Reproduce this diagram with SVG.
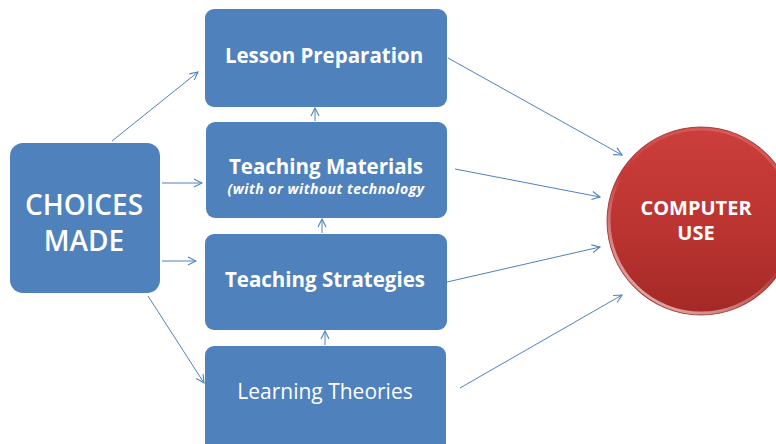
<svg xmlns="http://www.w3.org/2000/svg" width="776" height="444" viewBox="0 0 776 444">
  <defs>
    <marker id="arrow" viewBox="0 0 10 10" refX="9" refY="5" markerWidth="10" markerHeight="10" markerUnits="userSpaceOnUse" orient="auto">
      <path d="M1,1 L9,5 L1,9" fill="none" stroke="#4F81BD" stroke-width="1.1"/>
    </marker>
    <linearGradient id="ballFill" x1="0" y1="0" x2="0" y2="1">
      <stop offset="0" stop-color="#CB3E3B"/>
      <stop offset="0.55" stop-color="#BB3431"/>
      <stop offset="1" stop-color="#A32926"/>
    </linearGradient>
    <linearGradient id="rim" x1="0.8" y1="0" x2="0.2" y2="1">
      <stop offset="0" stop-color="#E9A5A3" stop-opacity="0.3"/>
      <stop offset="0.5" stop-color="#FFFFFF" stop-opacity="0"/>
      <stop offset="1" stop-color="#F6CFCD" stop-opacity="0.8"/>
    </linearGradient>
  </defs>
  <style>
    .box { fill: #4F81BD; }
    .lbl { fill: #FFFFFF; font-family: "Open Sans", "Liberation Sans", sans-serif; text-anchor: middle; }
    .conn line { stroke: #4F81BD; stroke-width: 1; marker-end: url(#arrow); }
  </style>
  <rect width="776" height="444" fill="#FFFFFF"/>

  <g id="choices-made">
    <rect class="box" x="10" y="143" width="150" height="150" rx="13"/>
    <text class="lbl" x="84" y="215" font-size="28" font-weight="600">CHOICES</text>
    <text class="lbl" x="84" y="251" font-size="28" font-weight="600">MADE</text>
  </g>

  <g id="lesson-preparation">
    <rect class="box" x="205" y="9" width="242" height="98" rx="9"/>
    <text class="lbl" x="324" y="63" font-size="20.5" font-weight="bold">Lesson Preparation</text>
  </g>

  <g id="teaching-materials">
    <rect class="box" x="206" y="122" width="241" height="96" rx="9"/>
    <text class="lbl" x="326" y="174" font-size="20.5" font-weight="bold">Teaching Materials</text>
    <text class="lbl" x="326" y="194" font-size="14" font-weight="bold" font-style="italic" letter-spacing="0.5">(with or without technology</text>
  </g>

  <g id="teaching-strategies">
    <rect class="box" x="205" y="234" width="242" height="96" rx="9"/>
    <text class="lbl" x="325" y="287" font-size="20.5" font-weight="bold">Teaching Strategies</text>
  </g>

  <g id="learning-theories">
    <rect class="box" x="205" y="346" width="241" height="106" rx="9"/>
    <text class="lbl" x="325" y="399" font-size="21">Learning Theories</text>
  </g>

  <g id="computer-use">
    <circle cx="701" cy="221" r="94" fill="url(#ballFill)" stroke="#9A2724" stroke-width="0.8"/>
    <circle cx="701" cy="221" r="92" fill="none" stroke="url(#rim)" stroke-width="3"/>
    <text class="lbl" x="696" y="215" font-size="20" font-weight="bold">COMPUTER</text>
    <text class="lbl" x="696" y="240" font-size="20" font-weight="bold">USE</text>
  </g>

  <g id="connectors" class="conn">
    <line x1="112" y1="141" x2="198" y2="72"/>
    <line x1="162" y1="183" x2="202" y2="183"/>
    <line x1="162" y1="261" x2="196" y2="261"/>
    <line x1="148" y1="296" x2="204" y2="383"/>
    <line x1="315" y1="121" x2="315" y2="108"/>
    <line x1="322" y1="233" x2="322" y2="219"/>
    <line x1="325" y1="345" x2="325" y2="331"/>
    <line x1="448" y1="58" x2="622" y2="155"/>
    <line x1="455" y1="169" x2="600" y2="197"/>
    <line x1="447" y1="282" x2="600" y2="247"/>
    <line x1="460" y1="388" x2="622" y2="295"/>
  </g>
</svg>
